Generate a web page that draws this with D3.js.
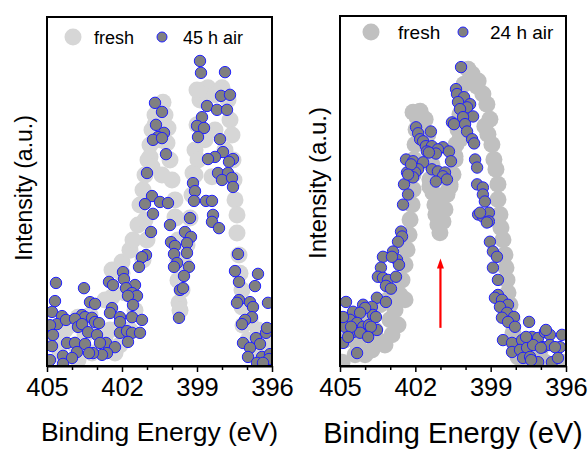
<!DOCTYPE html>
<html lang="en">
<head>
<meta charset="UTF-8" />
<title>XPS N 1s fresh vs air</title>
<script src="https://d3js.org/d3.v7.min.js"></script>
<style>
  body { margin: 0; background: #fff; }
  svg { display: block; font-family: Arial, "Liberation Sans", sans-serif; }
  .domain { stroke: #000; stroke-width: 2px; }
  .tick line { stroke: #000; stroke-width: 1.5px; }
</style>
</head>
<body>
<svg id="chart" width="588" height="450"></svg>
<script>
// tick values (binding energy, eV)
const majorTicks = [405, 402, 399, 396];
const minorTicks = [404, 403, 401, 400, 398, 397];

// left panel: fresh vs 45 h air  [eV, intensity a.u.]
const leftFresh = [
  [404.68,7.4],[404.40,7.4],[404.28,10.3],[403.88,6.0],[403.76,14.0],[403.76,1.7],[403.48,8.9],[403.20,3.7],
  [403.08,11.7],[402.88,4.6],[402.68,7.4],[402.48,10.3],[402.28,3.7],[402.08,6.0],[403.28,14.6],[402.68,18.9],
  [402.40,27.5],[402.40,19.8],[402.00,26.6],[401.88,20.9],[404.48,3.2],[404.08,11.7],[401.68,10.3],[401.48,16.0],
  [402.00,29.8],[401.68,33.2],[401.56,36.1],[401.36,40.4],[401.28,46.1],[401.16,50.4],[401.08,54.7],[400.96,59.0],
  [400.88,63.3],[400.80,67.6],[400.68,71.9],[400.56,74.8],[400.36,75.6],[400.28,71.9],[400.16,68.2],[400.20,63.9],
  [400.08,59.0],[400.00,53.3],[399.88,47.6],[399.84,42.4],[399.76,36.1],[399.76,30.4],[399.76,24.6],[399.72,18.1],
  [399.68,16.0],[399.60,21.8],[399.48,28.9],[399.40,34.7],[399.28,42.4],[399.20,49.0],[399.16,55.3],[399.08,61.9],
  [399.00,69.1],[398.88,76.2],[398.76,79.1],[398.56,79.7],[398.28,77.7],[398.00,79.7],[397.76,76.2],[397.68,70.5],
  [397.60,66.2],[397.56,59.0],[397.52,53.3],[397.48,47.6],[397.40,43.3],[397.40,38.1],[397.32,31.8],[397.28,26.6],
  [397.20,21.8],[397.20,16.9],[397.16,11.7],[396.96,7.4],[396.68,4.6],[396.40,3.2],[396.16,6.0],[396.56,10.3],
  [396.88,13.2],[400.88,59.9],[400.80,57.0],[401.08,41.8],[401.00,36.1],[401.16,30.4],[399.88,42.7],[399.60,36.1],
  [399.00,79.1],[398.40,54.2],[400.48,64.8],[398.96,59.0],[398.68,64.8],[398.28,67.6],[397.88,61.9],[399.08,54.7],
  [400.68,69.1],[400.40,54.7]
];
const leftAir = [
  [398.88,87.4],[398.84,84.0],[397.88,84.2],[398.04,77.4],[397.68,77.7],[400.68,75.4],[400.40,72.8],[398.60,74.5],
  [398.20,73.4],[397.80,73.4],[398.80,71.3],[399.00,68.8],[398.72,68.2],[400.64,69.1],[400.32,66.8],[400.56,65.6],
  [400.76,64.8],[400.40,65.3],[398.96,65.6],[398.08,65.0],[400.24,60.7],[397.96,61.3],[398.28,59.9],[398.56,59.3],
  [397.56,59.3],[397.72,58.5],[401.00,55.3],[398.16,55.3],[397.76,55.3],[398.00,53.3],[397.60,53.9],[399.16,52.4],
  [397.56,51.3],[399.08,50.1],[400.80,48.7],[401.08,46.4],[400.48,47.0],[400.16,46.7],[399.12,47.3],[398.64,47.3],
  [398.40,47.3],[400.76,43.6],[398.36,43.3],[398.40,41.3],[398.12,39.5],[400.08,40.4],[399.28,42.4],[399.48,38.4],
  [399.24,37.0],[400.84,38.4],[400.04,35.5],[399.88,34.4],[399.40,35.2],[399.92,32.1],[399.40,32.4],[401.04,31.8],
  [401.20,31.2],[397.36,32.1],[399.80,29.5],[399.32,28.4],[399.92,28.4],[401.32,28.4],[397.48,27.2],[399.52,25.8],
  [401.96,26.9],[402.52,24.1],[402.36,23.2],[401.92,24.9],[401.48,23.2],[401.84,22.3],[401.60,20.9],[401.40,20.1],
  [401.76,20.1],[401.56,17.5],[399.68,21.8],[399.56,22.3],[397.32,24.1],[396.56,26.4],[396.68,22.9],[404.64,23.8],
  [403.52,22.3],[404.68,18.6],[403.28,18.3],[403.08,17.8],[397.32,18.9],[397.40,18.1],[396.88,18.3],[396.76,16.9],
  [396.16,18.1],[402.40,16.6],[402.48,15.2],[404.80,15.5],[404.40,14.3],[403.60,14.6],[403.48,14.0],[403.20,13.8],
  [403.08,12.6],[402.92,12.3],[402.08,14.0],[402.08,12.6],[401.60,14.0],[401.20,13.2],[399.72,13.8],[396.80,14.0],
  [397.08,13.2],[397.20,12.0],[404.60,12.0],[404.88,11.7],[404.24,13.2],[403.88,13.5],[403.76,11.2],[403.60,12.0],
  [403.36,9.7],[403.00,8.9],[402.08,9.5],[401.80,10.0],[401.60,9.5],[401.28,9.5],[404.76,8.9],[402.64,6.6],
  [402.88,6.6],[402.28,5.4],[401.76,6.9],[404.20,6.6],[403.88,6.6],[403.48,6.3],[404.80,5.7],[402.60,3.7],
  [402.80,3.2],[403.16,3.7],[403.32,3.7],[403.80,4.0],[404.36,2.9],[404.00,2.3],[404.88,1.7],[404.36,0.6],
  [397.16,6.6],[396.64,8.0],[396.48,6.3],[396.24,9.5],[396.20,10.9],[396.88,5.2],[396.96,2.6],[396.40,2.6],
  [396.08,3.4],[396.12,2.0],[396.60,0.9],[396.36,0.9]
];

// right panel: fresh vs 24 h air
const rightFresh = [
  [404.92,1.1],[404.80,7.4],[404.52,10.3],[404.28,6.0],[404.00,3.2],[403.73,4.6],[403.49,7.4],[403.21,6.0],
  [402.93,8.9],[402.69,11.7],[404.68,13.2],[404.20,14.6],[403.81,13.2],[403.41,17.5],[403.09,18.9],[402.81,16.0],
  [402.61,20.3],[402.53,24.6],[402.41,28.9],[402.33,33.2],[402.25,37.5],[402.21,41.8],[402.13,46.1],[402.09,50.4],
  [402.09,54.7],[402.05,59.0],[402.01,63.3],[401.97,67.6],[401.93,71.1],[401.81,72.8],[401.61,70.5],[401.50,66.2],
  [401.42,61.9],[401.34,57.6],[401.42,53.3],[401.30,49.6],[401.22,46.1],[401.18,43.3],[401.10,40.4],[401.02,38.1],
  [400.90,41.3],[400.82,44.7],[400.74,49.0],[400.62,51.9],[400.50,54.7],[400.42,59.0],[400.38,63.3],[400.30,67.6],
  [400.22,71.9],[400.14,76.2],[400.06,80.5],[399.90,84.8],[399.74,83.4],[399.50,81.4],[399.31,77.7],[399.15,74.8],
  [399.03,70.5],[399.11,66.2],[398.95,63.3],[398.87,59.0],[398.79,56.2],[398.71,51.9],[398.71,47.6],[398.63,43.3],
  [398.59,39.5],[398.51,36.1],[398.43,31.8],[398.39,28.1],[398.35,24.6],[398.31,20.9],[398.23,17.5],[398.15,13.2],
  [398.11,9.5],[398.03,6.0],[397.91,2.6],[397.63,1.1],[397.23,2.3],[396.84,1.1],[396.44,0.3],[396.16,1.1],
  [397.43,4.6],[401.02,45.3],[400.74,49.6],[401.42,51.3],[400.62,51.3],[402.09,72.5],[399.54,79.9],[399.23,68.5],
  [400.42,59.9],[400.22,64.8],[401.69,64.8],[403.01,13.2],[403.61,10.3],[404.40,3.2],[402.41,18.9],[397.83,6.0],
  [397.03,4.6]
];
const rightAir = [
  [400.18,85.4],[400.38,79.1],[400.34,77.7],[400.06,76.8],[400.30,75.4],[399.82,74.8],[399.94,73.9],[400.22,73.4],
  [399.70,71.3],[400.10,71.1],[400.54,69.6],[400.46,69.1],[400.02,69.1],[399.94,67.0],[399.74,64.8],[399.66,63.6],
  [399.62,59.0],[399.54,56.7],[399.54,51.9],[399.31,51.0],[401.97,68.2],[401.89,66.5],[401.38,67.0],[401.81,64.8],
  [401.69,64.2],[401.58,62.8],[401.34,62.8],[400.90,62.5],[400.66,61.3],[401.10,61.9],[401.54,61.3],[401.18,60.7],
  [401.46,61.0],[400.58,58.5],[402.37,59.0],[402.09,58.5],[401.69,58.2],[401.34,56.2],[401.10,55.6],[400.82,55.3],
  [401.89,56.2],[402.01,55.3],[402.33,55.3],[402.09,53.9],[400.90,54.2],[400.74,53.3],[401.18,52.7],[402.45,51.9],
  [402.29,49.0],[402.49,46.1],[402.57,38.4],[402.53,37.0],[402.69,35.5],[402.89,32.7],[402.73,30.4],[402.65,28.9],
  [403.29,31.2],[402.93,31.2],[403.37,28.1],[403.49,25.5],[403.29,25.2],[403.09,24.6],[402.77,25.5],[403.17,22.9],
  [402.97,22.1],[403.53,19.5],[403.17,18.3],[404.76,18.3],[404.08,17.5],[403.73,16.9],[403.69,14.6],[404.00,16.6],
  [404.48,15.5],[404.20,15.2],[404.88,13.2],[404.60,13.2],[404.32,12.3],[404.08,11.2],[403.85,11.7],[403.53,10.3],
  [404.80,11.2],[404.48,9.7],[404.20,9.5],[404.88,6.6],[404.32,3.7],[403.57,14.0],[404.88,14.0],[404.56,11.2],
  [403.77,11.2],[403.88,8.3],[404.68,8.3],[402.17,57.6],[402.29,54.7],[399.31,49.0],[399.23,47.0],[399.50,43.3],
  [399.31,42.7],[399.07,43.8],[399.07,41.3],[399.15,41.0],[399.03,35.5],[398.91,32.7],[398.75,31.2],[398.91,28.1],
  [398.71,24.6],[398.71,20.3],[398.83,19.5],[398.55,18.9],[398.31,17.5],[398.63,16.9],[398.35,15.2],[398.07,14.0],
  [398.55,13.8],[398.31,12.6],[398.03,11.2],[397.47,12.6],[398.51,7.4],[398.15,6.6],[397.75,7.4],[397.35,8.3],
  [397.11,8.0],[396.84,9.7],[396.64,8.9],[396.16,8.9],[398.15,4.0],[397.83,4.6],[397.55,5.2],[397.31,6.0],
  [396.92,5.4],[396.64,6.0],[396.24,5.4],[397.71,2.3],[397.43,2.6],[397.11,1.1],[396.56,1.1],[396.32,2.3],
  [397.59,8.3],[397.00,5.2],[396.44,5.4],[397.39,1.7],[396.80,10.3],[399.42,43.8]
];

// red arrow in right panel (eV, from, to intensity)
const arrow = { e: 401.0, from: 10.9, to: 30.7 };

const svg = d3.select("#chart");

function drawPanel(p) {
  const x = d3.scaleLinear().domain([405, 396]).range([p.left, p.right]);
  const y = d3.scaleLinear().domain([0, 100]).range([p.bottom, p.top]);

  const clipId = "clip-" + p.id;
  svg.append("clipPath").attr("id", clipId)
    .append("rect")
    .attr("x", p.left).attr("y", p.top)
    .attr("width", p.right - p.left).attr("height", p.bottom - p.top);

  const g = svg.append("g").attr("clip-path", `url(#${clipId})`);

  g.selectAll(".fresh").data(p.fresh).enter().append("circle")
    .attr("cx", (d) => x(d[0])).attr("cy", (d) => y(d[1]))
    .attr("r", 8.5).attr("fill", p.freshColor);

  g.selectAll(".air").data(p.air).enter().append("circle")
    .attr("cx", (d) => x(d[0])).attr("cy", (d) => y(d[1]))
    .attr("r", 5.7).attr("fill", "#808080")
    .attr("stroke", "#2020ff").attr("stroke-width", 1);

  if (p.arrow) {
    const a = p.arrow;
    g.append("line")
      .attr("x1", x(a.e)).attr("x2", x(a.e))
      .attr("y1", y(a.from)).attr("y2", y(a.to) + 8)
      .attr("stroke", "#ff0000").attr("stroke-width", 2.2);
    g.append("path")
      .attr("d", `M${x(a.e)},${y(a.to)} l-3.5,10 l7,0 z`)
      .attr("fill", "#ff0000");
  }

  // minor ticks
  svg.append("g").attr("transform", `translate(0,${p.bottom})`)
    .call(d3.axisBottom(x).tickValues(minorTicks).tickSize(4).tickFormat(""))
    .call((s) => s.select(".domain").remove());

  // major ticks + labels
  svg.append("g").attr("transform", `translate(0,${p.bottom})`)
    .call(d3.axisBottom(x).tickValues(majorTicks).tickSize(6).tickSizeOuter(0).tickPadding(6))
    .call((s) => s.selectAll("text").attr("font-size", p.tickFont).attr("fill", "#000")
      .attr("font-family", "Arial, 'Liberation Sans', sans-serif"));

  // frame
  svg.append("rect")
    .attr("x", p.left).attr("y", p.top)
    .attr("width", p.right - p.left).attr("height", p.bottom - p.top)
    .attr("fill", "none").attr("stroke", "#000").attr("stroke-width", 2);

  // axis titles
  svg.append("text")
    .attr("x", (p.left + p.right) / 2 + p.titleShift).attr("y", p.titleY)
    .attr("text-anchor", "middle").attr("font-size", p.titleFont)
    .text("Binding Energy (eV)");

  svg.append("text")
    .attr("transform", `translate(${p.ylabX},${p.ylabY}) rotate(-90)`)
    .attr("text-anchor", "middle").attr("font-size", p.ylabFont)
    .text("Intensity (a.u.)");

  // legend
  const lg = svg.append("g");
  lg.append("circle").attr("cx", p.leg.x1).attr("cy", p.leg.y).attr("r", 8.5).attr("fill", p.freshColor);
  lg.append("text").attr("x", p.leg.t1).attr("y", p.leg.y + 6.5).attr("font-size", p.legFont).text("fresh");
  lg.append("circle").attr("cx", p.leg.x2).attr("cy", p.leg.y).attr("r", 5)
    .attr("fill", "#808080").attr("stroke", "#2020ff").attr("stroke-width", 1);
  lg.append("text").attr("x", p.leg.t2).attr("y", p.leg.y + 6.5).attr("font-size", p.legFont).text(p.airLabel);
}

drawPanel({
  id: "left", left: 47, right: 272, top: 17, bottom: 366,
  fresh: leftFresh, air: leftAir, freshColor: "#d6d6d6", airLabel: "45 h air",
  tickFont: 25.5, titleFont: 26.5, titleY: 441, titleShift: 0,
  ylabX: 32, ylabY: 188, ylabFont: 23, legFont: 18,
  leg: { y: 37, x1: 73, t1: 94, x2: 162, t2: 183 }
});

drawPanel({
  id: "right", left: 340, right: 566, top: 16, bottom: 366,
  fresh: rightFresh, air: rightAir, freshColor: "#c0c0c0", airLabel: "24 h air",
  arrow: arrow,
  tickFont: 25.5, titleFont: 29, titleY: 443, titleShift: 0,
  ylabX: 326, ylabY: 183, ylabFont: 24, legFont: 19,
  leg: { y: 32, x1: 371, t1: 398, x2: 463, t2: 490 }
});
</script>
</body>
</html>
